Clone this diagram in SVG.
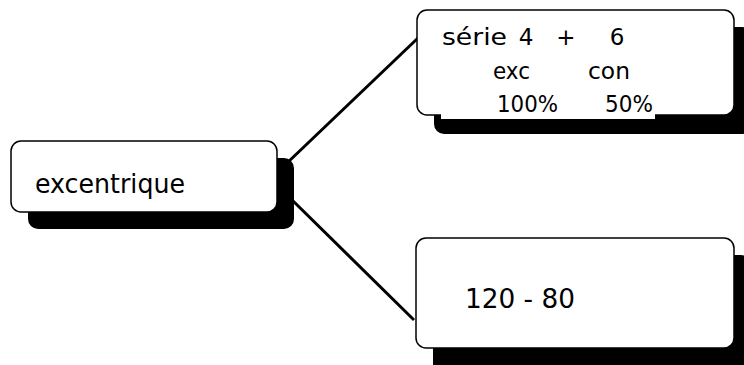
<svg xmlns="http://www.w3.org/2000/svg" width="744" height="365" viewBox="0 0 744 365">
<style>
.shadow{fill:#000}
.box{fill:#fff;stroke:#000;stroke-width:1.5}
.conn{stroke:#000;stroke-width:3;fill:none}
text{font-family:"DejaVu Sans","Liberation Sans",sans-serif;fill:#000}
.t22{font-size:23px}
.t24{font-size:26px}
.mid{text-anchor:middle}
</style>
<rect width="744" height="365" fill="#fff"/>
<g id="connectors">
<line class="conn" x1="286" y1="164" x2="418" y2="38"/>
<line class="conn" x1="288" y1="196" x2="414" y2="320"/>
</g>
<g id="node-excentrique">
<rect class="shadow" x="28" y="158" width="266" height="71" rx="10"/>
<rect class="box" x="11" y="141" width="266" height="71" rx="10"/>
<text class="t24" x="35" y="193" textLength="150" lengthAdjust="spacingAndGlyphs">excentrique</text>
</g>
<g id="node-serie">
<rect class="shadow" x="434" y="27" width="318" height="107" rx="10"/>
<rect class="box" x="417" y="10" width="317" height="105" rx="10"/>
<rect x="441" y="98" width="214" height="21" fill="#fff"/>
<text class="t22" x="442" y="45" textLength="65" lengthAdjust="spacingAndGlyphs">série</text>
<text class="t22 mid" x="526" y="45">4</text>
<text class="t22 mid" x="566" y="45">+</text>
<text class="t22 mid" x="617" y="45">6</text>
<text class="t22" x="493" y="79" textLength="37" lengthAdjust="spacingAndGlyphs">exc</text>
<text class="t22" x="588" y="79" textLength="42" lengthAdjust="spacingAndGlyphs">con</text>
<text class="t22" x="497" y="112" textLength="61" lengthAdjust="spacingAndGlyphs">100%</text>
<text class="t22" x="605" y="112" textLength="48" lengthAdjust="spacingAndGlyphs">50%</text>
</g>
<g id="node-120-80">
<rect class="shadow" x="433" y="255" width="318" height="120" rx="10"/>
<rect class="box" x="416" y="238" width="318" height="110" rx="10"/>
<text class="t24" x="465" y="308" textLength="110" lengthAdjust="spacingAndGlyphs">120 - 80</text>
</g>
</svg>
